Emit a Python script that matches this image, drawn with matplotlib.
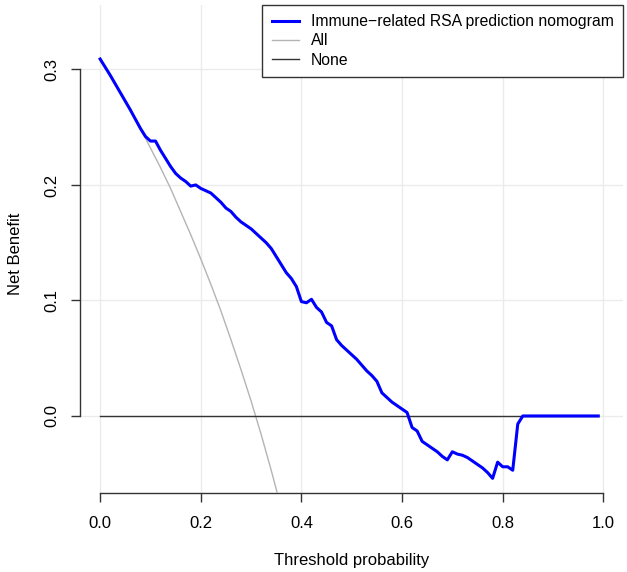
import matplotlib
matplotlib.use('Agg')
import matplotlib.pyplot as plt

plt.rcParams['font.family'] = ['Liberation Sans', 'DejaVu Sans']

# threshold probabilities and net benefit
model_name = 'Immune\u2212related RSA prediction nomogram'
model_pt = [0.00, 0.02, 0.04, 0.06, 0.08, 0.09, 0.10, 0.11, 0.12, 0.13,
            0.14, 0.15, 0.16, 0.17, 0.18, 0.19, 0.20, 0.21, 0.22, 0.23,
            0.24, 0.25, 0.26, 0.27, 0.28, 0.29, 0.30, 0.31, 0.32, 0.33,
            0.34, 0.35, 0.36, 0.37, 0.38, 0.39, 0.40, 0.41, 0.42, 0.43,
            0.44, 0.45, 0.46, 0.47, 0.48, 0.49, 0.50, 0.51, 0.52, 0.53,
            0.54, 0.55, 0.56, 0.57, 0.58, 0.59, 0.60, 0.61, 0.62, 0.63,
            0.64, 0.65, 0.66, 0.67, 0.68, 0.69, 0.70, 0.71, 0.72, 0.73,
            0.74, 0.75, 0.76, 0.77, 0.78, 0.79, 0.80, 0.81, 0.82, 0.83,
            0.84, 0.90, 0.95, 0.99]
model_nb = [0.309, 0.295, 0.280, 0.265, 0.249, 0.242, 0.238, 0.238, 0.230, 0.223,
            0.216, 0.210, 0.206, 0.203, 0.199, 0.200, 0.197, 0.195, 0.193, 0.189,
            0.185, 0.180, 0.177, 0.172, 0.168, 0.165, 0.162, 0.158, 0.154, 0.150,
            0.145, 0.138, 0.131, 0.124, 0.119, 0.112, 0.099, 0.098, 0.101, 0.094,
            0.090, 0.081, 0.078, 0.066, 0.061, 0.057, 0.053, 0.049, 0.044, 0.039,
            0.035, 0.030, 0.020, 0.016, 0.012, 0.009, 0.006, 0.003, -0.010, -0.013,
            -0.022, -0.025, -0.028, -0.031, -0.035, -0.038, -0.031, -0.033, -0.034, -0.036,
            -0.039, -0.042, -0.045, -0.049, -0.054, -0.040, -0.044, -0.044, -0.047, -0.007,
            0.000, 0.000, 0.000, 0.000]

all_pt = [0.00, 0.02, 0.04, 0.06, 0.08, 0.10, 0.12, 0.14, 0.16, 0.18,
          0.20, 0.22, 0.24, 0.26, 0.28, 0.30, 0.32, 0.34, 0.36, 0.38]
all_nb = [0.309, 0.295, 0.280, 0.265, 0.249, 0.232, 0.215, 0.197, 0.177, 0.157,
          0.136, 0.114, 0.091, 0.066, 0.040, 0.013, -0.016, -0.047, -0.080, -0.115]

none_pt = [0.00, 0.99]
none_nb = [0.0, 0.0]

x_ticks = [0.0, 0.2, 0.4, 0.6, 0.8, 1.0]
y_ticks = [0.0, 0.1, 0.2, 0.3]

fig = plt.figure(figsize=(6.27, 5.72), dpi=100)
ax = fig.add_axes([0.1276, 0.1381, 0.8667, 0.8532])

# light grid like grid() in R
for x in x_ticks:
  ax.axvline(x, color='#ebebeb', lw=1, zorder=0)
for y in y_ticks:
  ax.axhline(y, color='#ebebeb', lw=1, zorder=0)

ax.plot(model_pt, model_nb, color='blue', lw=2.2, label=model_name, zorder=4)
ax.plot(all_pt, all_nb, color='#b4b4b4', lw=1, label='All', zorder=3)
ax.plot(none_pt, none_nb, color='#333333', lw=1, label='None', zorder=3)

ax.set_xlim(-0.04, 1.04)
ax.set_ylim(-0.0667, 0.3558)
ax.set_xticks(x_ticks)
ax.set_yticks(y_ticks)
ax.set_xticklabels(['0.0', '0.2', '0.4', '0.6', '0.8', '1.0'])
ax.set_yticklabels(['0.0', '0.1', '0.2', '0.3'], rotation=90, va='center')

for s in ['top', 'right']:
  ax.spines[s].set_visible(False)
ax.spines['left'].set_bounds(0.0, 0.3)
ax.spines['bottom'].set_bounds(0.0, 1.0)
for s in ['left', 'bottom']:
  ax.spines[s].set_color('#333333')
  ax.spines[s].set_linewidth(1)
ax.tick_params(length=6.5, width=1, color='#333333', labelsize=12)
ax.tick_params(axis='x', pad=10)
ax.tick_params(axis='y', pad=8)

ax.set_xlabel('Threshold probability', fontsize=12)
ax.set_ylabel('Net Benefit', fontsize=12)
ax.xaxis.set_label_coords(0.5, -0.139)
ax.yaxis.set_label_coords(-0.118, 0.49)
ax.xaxis.label.set_va('center')
ax.yaxis.label.set_va('center')

leg = ax.legend(loc='upper right', fontsize=11.3, frameon=True, fancybox=False,
                framealpha=1, edgecolor='#333333', borderaxespad=0,
                handlelength=1.7, handletextpad=0.8, labelspacing=0.26,
                borderpad=0.6)
leg.get_frame().set_linewidth(1)

fig.savefig('out.png', dpi=100)
